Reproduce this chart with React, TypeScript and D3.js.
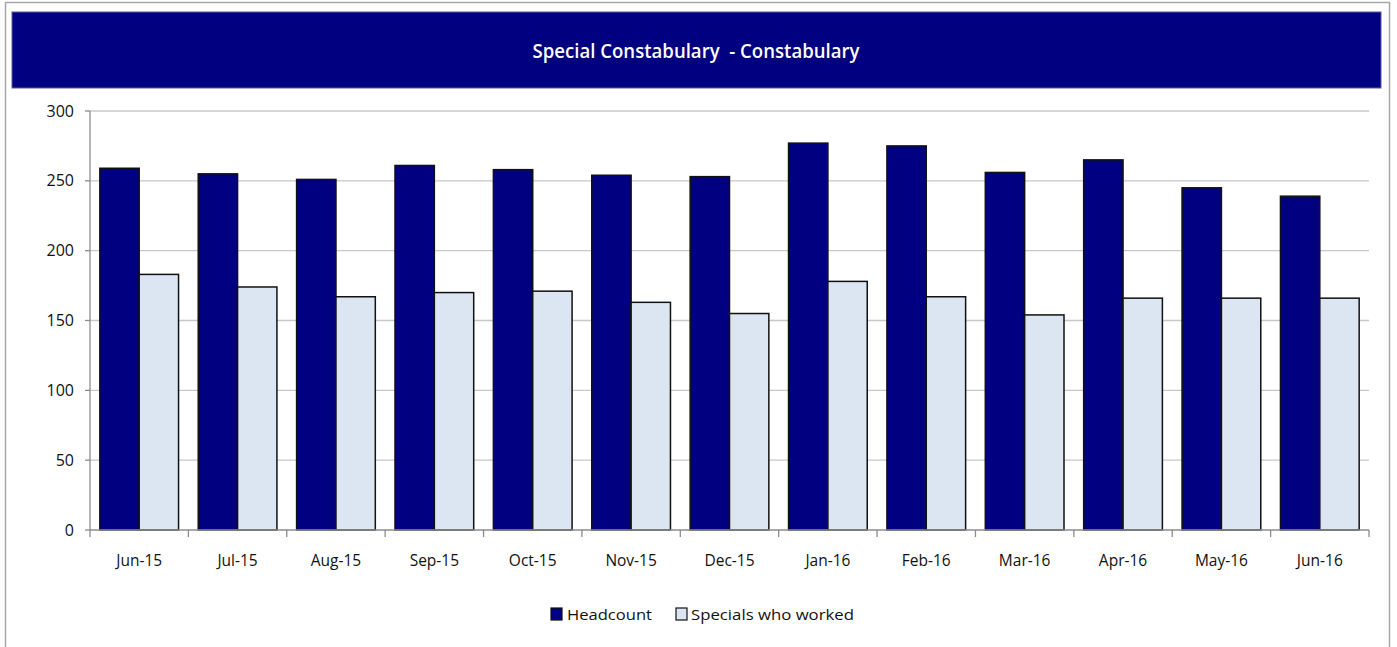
import React from "react";
import * as d3 from "d3";

const title = "Special Constabulary  - Constabulary";
const categories = ["Jun-15", "Jul-15", "Aug-15", "Sep-15", "Oct-15", "Nov-15", "Dec-15", "Jan-16", "Feb-16", "Mar-16", "Apr-16", "May-16", "Jun-16"];
const headcount = [259, 255, 251, 261, 258, 254, 253, 277, 275, 256, 265, 245, 239];
const specialsWorked = [183, 174, 167, 170, 171, 163, 155, 178, 167, 154, 166, 166, 166];
const seriesNames = ["Headcount", "Specials who worked"];
const seriesColors = ["#000080", "#dce6f2"];
const yTicks = [0, 50, 100, 150, 200, 250, 300];

const W = 1397;
const H = 647;
const plot = { left: 90, right: 1369, top: 111, bottom: 530 };
const FONT = "'Open Sans', 'DejaVu Sans', sans-serif";

export default function App() {
  const x = d3.scaleBand<string>().domain(categories).range([plot.left, plot.right]).paddingInner(0).paddingOuter(0);
  const inner = d3.scaleBand<string>().domain(seriesNames).range([0, x.bandwidth()]).paddingInner(0).paddingOuter(0.25);
  const y = d3.scaleLinear().domain([0, 300]).range([plot.bottom, plot.top]);
  const series = [headcount, specialsWorked];

  return (
    <div style={{ position: "absolute", left: 0, top: 0, margin: 0 }}>
      <svg width={W} height={H} style={{ display: "block" }}>
        <rect x={0} y={0} width={W} height={H} fill="#ffffff" />
        <rect x={5.5} y={2.5} width={1384} height={660} fill="#ffffff" stroke="#a6a6a6" strokeWidth={1.5} />
        <rect x={12} y={12} width={1369} height={76} fill="#000080" stroke="#5a5aa8" strokeWidth={1} />
        <text x={696} y={57.5} textAnchor="middle" fill="#ffffff" fontFamily={FONT} fontWeight={600} fontSize={19} textLength={327} lengthAdjust="spacingAndGlyphs" style={{ whiteSpace: "pre" }}>
          {title}
        </text>

        {yTicks.map((t) => (
          <g key={t}>
            {t > 0 && <line x1={plot.left} x2={plot.right} y1={y(t)} y2={y(t)} stroke="#c8c8c8" strokeWidth={1.3} />}
            <line x1={plot.left - 5} x2={plot.left} y1={y(t)} y2={y(t)} stroke="#8c8c8c" strokeWidth={1.3} />
            <text x={74} y={y(t)} dy="0.35em" textAnchor="end" fontFamily={FONT} fontSize={16} fill="#111111">
              {t}
            </text>
          </g>
        ))}

        {categories.map((c, i) => (
          <g key={c}>
            {series.map((vals, s) => (
              <rect
                key={s}
                x={(x(c) as number) + (inner(seriesNames[s]) as number)}
                y={y(vals[i])}
                width={inner.bandwidth()}
                height={y(0) - y(vals[i])}
                fill={seriesColors[s]}
                stroke="#111111"
                strokeWidth={1.5}
              />
            ))}
          </g>
        ))}

        <line x1={plot.left} x2={plot.left} y1={plot.top} y2={plot.bottom} stroke="#8c8c8c" strokeWidth={1.3} />
        <line x1={plot.left} x2={plot.right} y1={plot.bottom} y2={plot.bottom} stroke="#8c8c8c" strokeWidth={1.3} />
        {[...categories.map((c) => x(c) as number), plot.right].map((tx, i) => (
          <line key={i} x1={tx} x2={tx} y1={plot.bottom} y2={plot.bottom + 7} stroke="#8c8c8c" strokeWidth={1.3} />
        ))}
        {categories.map((c) => (
          <text key={c} x={(x(c) as number) + x.bandwidth() / 2} y={566} textAnchor="middle" fontFamily={FONT} fontSize={15.5} fill="#111111">
            {c}
          </text>
        ))}

        <g>
          <rect x={551} y={608} width={11} height={12} fill={seriesColors[0]} stroke="#111" strokeWidth={1.2} />
          <text x={567} y={620} fontFamily={FONT} fontSize={15} fill="#111111" textLength={85} lengthAdjust="spacingAndGlyphs">{seriesNames[0]}</text>
          <rect x={676} y={608} width={11} height={12} fill={seriesColors[1]} stroke="#111" strokeWidth={1.2} />
          <text x={691} y={620} fontFamily={FONT} fontSize={15} fill="#111111" textLength={163} lengthAdjust="spacingAndGlyphs">{seriesNames[1]}</text>
        </g>
      </svg>
    </div>
  );
}
